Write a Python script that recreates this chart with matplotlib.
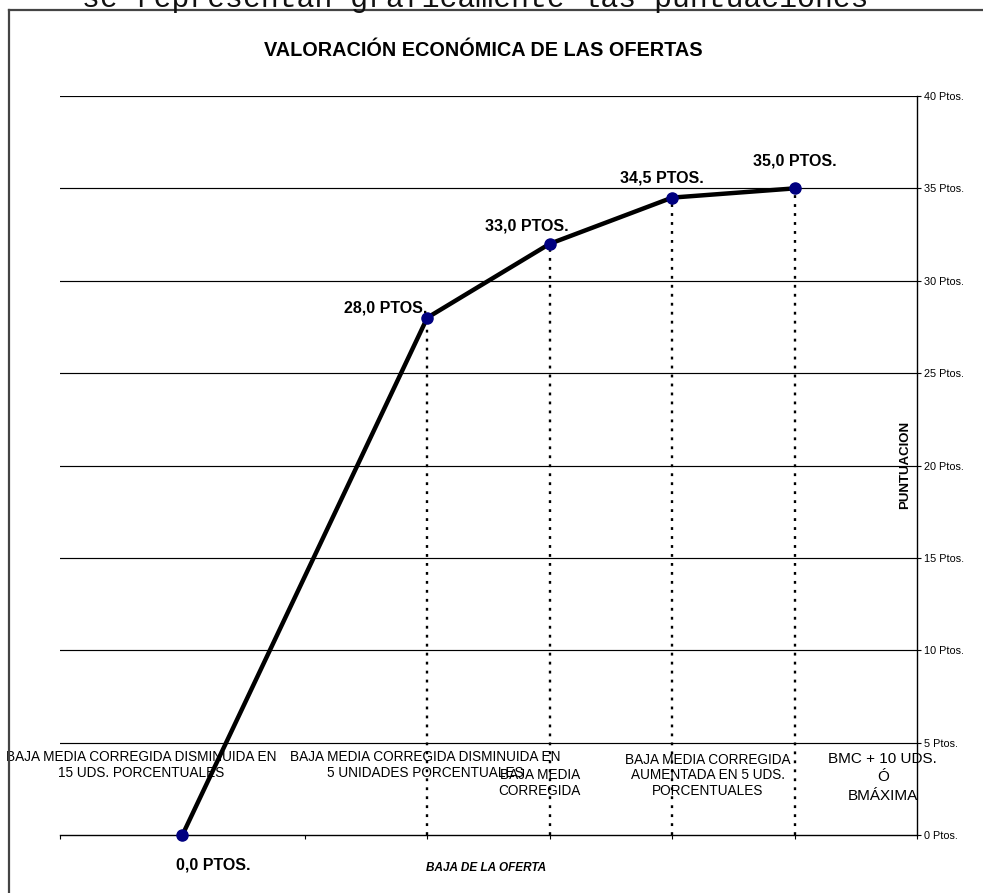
import matplotlib
matplotlib.use("Agg")
import matplotlib.pyplot as plt
from matplotlib.lines import Line2D

plt.rcParams['font.family'] = ['Liberation Sans', 'DejaVu Sans']

# ---- data ----
x_pos = [1, 3, 4, 5, 6]
scores = [0.0, 28.0, 32.0, 34.5, 35.0]
point_labels = ["0,0 PTOS.", "28,0 PTOS.", "33,0 PTOS.", "34,5 PTOS.", "35,0 PTOS."]
label_xy = [(1.25, -1.65), (2.66, 28.5), (3.81, 32.96), (4.92, 35.56), (6.0, 36.48)]
categories = [
    "BAJA MEDIA CORREGIDA DISMINUIDA EN\n15 UDS. PORCENTUALES",
    "BAJA MEDIA CORREGIDA DISMINUIDA EN\n5 UNIDADES PORCENTUALES",
    "BAJA MEDIA\nCORREGIDA",
    "BAJA MEDIA CORREGIDA\nAUMENTADA EN 5 UDS.\nPORCENTUALES",
    "BMC + 10 UDS.\nÓ\nBMÁXIMA",
]
cat_xy = [(0.66, 4.6), (2.98, 4.6), (3.92, 3.65), (5.29, 4.45), (6.72, 4.5)]
cat_size = [9.8, 9.8, 9.8, 9.8, 11]
cat_spacing = [1.15, 1.15, 1.2, 1.15, 1.42]
yticks = [0, 5, 10, 15, 20, 25, 30, 35, 40]
ytick_labels = [f"{v} Ptos." for v in yticks]

W, H = 983, 893
fig = plt.figure(figsize=(W / 100, H / 100), dpi=100)

# outer frame (top and left visible)
fig.add_artist(Line2D([9 / W, 1.0], [1 - 10 / H, 1 - 10 / H], transform=fig.transFigure,
                      color="#444444", lw=1.6))
fig.add_artist(Line2D([9 / W, 9 / W], [0, 1 - 10 / H], transform=fig.transFigure,
                      color="#444444", lw=1.6))
# cut-off text on top
fig.text(82 / W, 1 - 7 / H, "se representan gráficamente las puntuaciones",
         family="Liberation Mono", fontsize=21.5, va="baseline", ha="left", color="#111111")

ax = fig.add_axes([60 / W, 1 - 835 / H, 857 / W, 739 / H])
ax.set_xlim(0, 7)
ax.set_ylim(0, 40)

for v in yticks[1:]:
    ax.axhline(v, color="black", lw=0.85, zorder=1)

for xp, s in zip(x_pos[1:], scores[1:]):
    ax.plot([xp, xp], [0, s], color="black", lw=1.7, ls=(0, (1.2, 2.6)), zorder=2)

ax.plot(x_pos, scores, color="black", lw=3.2, zorder=3, clip_on=False,
        marker="o", markersize=8, markerfacecolor="#000080", markeredgecolor="#000080")

for (lx, ly), t in zip(label_xy, point_labels):
    ax.text(lx, ly, t, fontsize=11.5, fontweight="bold", ha="center", va="center")

for (cx, cy), t, fs, ls in zip(cat_xy, categories, cat_size, cat_spacing):
    ax.text(cx, cy, t, fontsize=fs, ha="center", va="top", linespacing=ls, zorder=1)

ax.spines["left"].set_visible(False)
ax.spines["top"].set_visible(False)
ax.spines["right"].set_linewidth(1.0)
ax.spines["bottom"].set_linewidth(1.0)
ax.yaxis.tick_right()
ax.set_yticks(yticks)
ax.set_yticklabels(ytick_labels, fontsize=7.8)
ax.tick_params(axis="y", direction="out", length=3, width=0.8, pad=2)
ax.set_xticks(range(0, 8))
ax.set_xticklabels([])
ax.tick_params(axis="x", direction="out", length=3, width=0.8)

fig.text(483 / W, 1 - 50 / H, "VALORACIÓN ECONÓMICA DE LAS OFERTAS",
         fontsize=14.3, fontweight="bold", ha="center", va="center")
fig.text(486 / W, 1 - 868 / H, "BAJA DE LA OFERTA", fontsize=8.5, fontweight="bold",
         fontstyle="italic", ha="center", va="center")
fig.text(905 / W, 1 - 465 / H, "PUNTUACION", fontsize=9.5, fontweight="bold",
         rotation=90, ha="center", va="center")

fig.savefig("out.png", dpi=100)
